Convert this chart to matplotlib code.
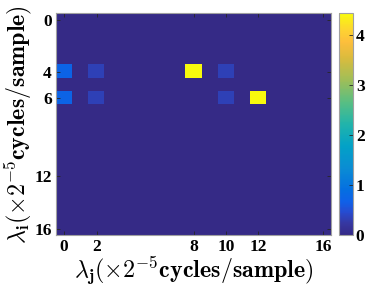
import numpy as np
import matplotlib
matplotlib.use("Agg")
import matplotlib.pyplot as plt
from matplotlib.colors import LinearSegmentedColormap

plt.rcParams["mathtext.fontset"] = "cm"

# grid of frequencies (units of 2^-5 cycles/sample)
n_freq = 17
x_ticks = [0, 2, 8, 10, 12, 16]
y_ticks = [0, 4, 6, 12, 16]
cbar_ticks = [0, 1, 2, 3, 4]

# non-zero cells: (lambda_i, lambda_j, value)
cell_i = [4, 4, 4, 4, 6, 6, 6, 6]
cell_j = [0, 2, 8, 10, 0, 2, 10, 12]
cell_v = [0.72, 0.33, 4.44, 0.33, 0.72, 0.33, 0.33, 4.44]

Z = np.zeros((n_freq, n_freq))
for i, j, v in zip(cell_i, cell_j, cell_v):
    Z[i, j] = v

# parula-like colormap
parula_pts = [
    (0.00, (0.2081, 0.1663, 0.5292)),
    (0.05, (0.2123, 0.2138, 0.6270)),
    (0.10, (0.1540, 0.2920, 0.8100)),
    (0.15, (0.0590, 0.3800, 0.9100)),
    (0.20, (0.0200, 0.4317, 0.8830)),
    (0.30, (0.0400, 0.5500, 0.8300)),
    (0.40, (0.0100, 0.6330, 0.7800)),
    (0.50, (0.1300, 0.7050, 0.6700)),
    (0.60, (0.3500, 0.7470, 0.5100)),
    (0.70, (0.6280, 0.7470, 0.3420)),
    (0.80, (0.8580, 0.7340, 0.2400)),
    (0.87, (0.9900, 0.7450, 0.2340)),
    (0.92, (0.9950, 0.8200, 0.2000)),
    (1.00, (0.9763, 0.9831, 0.0538)),
]
parula = LinearSegmentedColormap.from_list("parula", parula_pts)

fig = plt.figure(figsize=(3.74, 2.91), dpi=100)
ax = fig.add_axes([0.150, 0.192, 0.735, 0.763])
cax = fig.add_axes([0.906, 0.192, 0.038, 0.763])

im = ax.imshow(Z, cmap=parula, vmin=0, vmax=4.44, aspect="auto",
               interpolation="nearest", origin="upper",
               extent=[-0.5, n_freq - 0.5, n_freq - 0.5, -0.5])

tick_font = dict(family="Liberation Serif", weight="bold", size=12.5)
ax.set_xticks(x_ticks)
ax.set_yticks(y_ticks)
ax.set_xticklabels([str(t) for t in x_ticks], **tick_font)
ax.set_yticklabels([str(t) for t in y_ticks], **tick_font)
ax.tick_params(direction="in", length=3, width=0.6, color="#262626",
               top=True, right=True, pad=3)
for s in ax.spines.values():
    s.set_color("#a0a0a0")
    s.set_linewidth(0.8)

label_tail = r"(\times\mathbf{2}^{\mathbf{-5}}\mathbf{cycles/sample})$"
ax.set_xlabel(r"$\lambda_{\mathbf{j}}" + label_tail, fontsize=17.3, labelpad=0)
ax.set_ylabel(r"$\lambda_{\mathbf{i}}" + label_tail, fontsize=17.3, labelpad=0)

cb = fig.colorbar(im, cax=cax)
cb.set_ticks(cbar_ticks)
cb.ax.set_yticklabels([str(t) for t in cbar_ticks], **tick_font)
cb.ax.tick_params(direction="in", length=3, width=0.6, color="#262626", pad=2)
cb.outline.set_edgecolor("#a0a0a0")
cb.outline.set_linewidth(0.8)

fig.savefig("out.png", dpi=100)
